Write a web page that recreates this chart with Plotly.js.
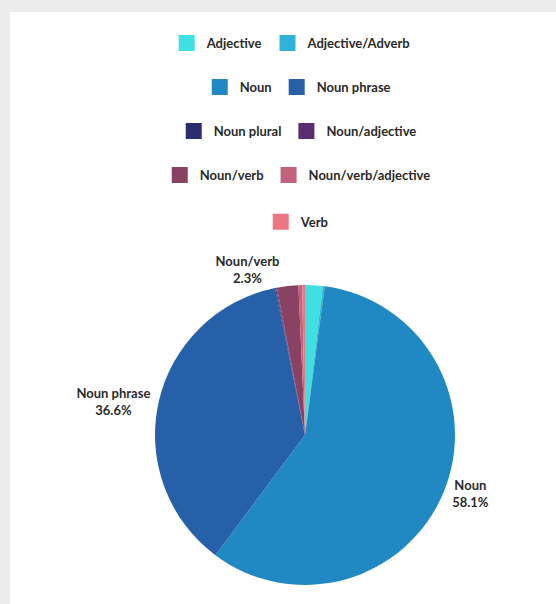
<!DOCTYPE html>
<html>
<head>
<meta charset="utf-8">
<script src="https://cdn.plot.ly/plotly-3.0.1.min.js"></script>
<style>
  html, body { margin: 0; padding: 0; background: #ececec; width: 556px; height: 604px; overflow: hidden; }
  #chart { position: absolute; left: 10px; top: 12px; width: 546px; height: 592px; background: #ffffff; }
</style>
</head>
<body>
<div id="chart"></div>
<script>
const labels = ["Adjective", "Adjective/Adverb", "Noun", "Noun phrase", "Noun plural",
                "Noun/adjective", "Noun/verb", "Noun/verb/adjective", "Verb"];
const values = [1.9, 0.2, 58.1, 36.6, 0.1, 0.1, 2.3, 0.4, 0.3];
const colors = ["#3fe0e2", "#30b3d8", "#2089c3", "#2660a8", "#2b2c72",
                "#5a2c72", "#8a4263", "#c0637f", "#ee7681"];
const legendRows = [1, 1, 2, 2, 3, 3, 4, 4, 5];

const fontFam = "Lato, 'Noto Sans', sans-serif";

const pie = {
  type: "pie",
  labels: labels,
  values: values,
  sort: false,
  direction: "clockwise",
  rotation: 0,
  marker: { colors: colors, line: { width: 0 } },
  textposition: "outside",
  texttemplate: values.map(v => v >= 2 ? "%{label}<br>%{percent:.1%}" : ""),
  textfont: { family: fontFam, size: 13, color: "#2a2a2a", weight: "bold" },
  domain: { x: [0.2656, 0.815], y: [0.0321, 0.5389] },
  showlegend: false,
  hoverinfo: "label+percent"
};

const legendTraces = labels.map((lab, i) => ({
  type: "scatter",
  mode: "markers",
  x: [null], y: [null],
  name: lab,
  marker: { symbol: "square", size: 16, color: colors[i] },
  legend: legendRows[i] === 1 ? "legend" : "legend" + legendRows[i],
  showlegend: true,
  hoverinfo: "skip"
}));

const rowY = [0.9476, 0.8733, 0.7990, 0.7247, 0.6455];
const legendBase = {
  orientation: "h",
  xanchor: "center",
  yanchor: "middle",
  x: 0.527,
  bgcolor: "rgba(0,0,0,0)",
  font: { family: fontFam, size: 13, color: "#2a2a2a", weight: "bold" }
};
const layout = {
  width: 546,
  height: 592,
  margin: { l: 0, r: 0, t: 0, b: 0 },
  paper_bgcolor: "#ffffff",
  plot_bgcolor: "#ffffff",
  xaxis: { visible: false },
  yaxis: { visible: false },
  legend: Object.assign({}, legendBase, { y: rowY[0], x: 0.515 }),
  legend2: Object.assign({}, legendBase, { y: rowY[1] }),
  legend3: Object.assign({}, legendBase, { y: rowY[2] }),
  legend4: Object.assign({}, legendBase, { y: rowY[3] }),
  legend5: Object.assign({}, legendBase, { y: rowY[4] })
};

Plotly.newPlot("chart", [pie].concat(legendTraces), layout, { displayModeBar: false, staticPlot: true });
</script>
</body>
</html>
